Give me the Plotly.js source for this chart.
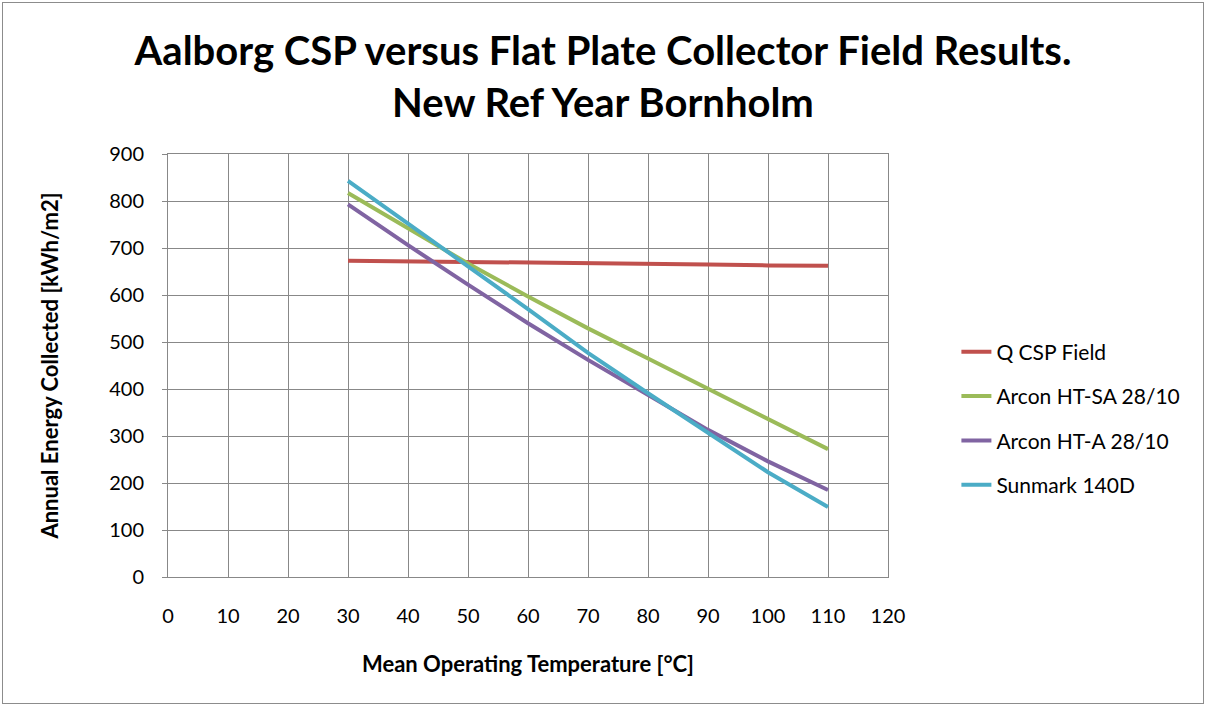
<!DOCTYPE html>
<html>
<head>
<meta charset="utf-8">
<script src="https://cdn.plot.ly/plotly-3.0.1.min.js"></script>
<style>
html,body{margin:0;padding:0;background:#fff;}
#wrap{position:absolute;left:2px;top:2px;width:1200px;height:700px;border:1px solid #8c8c8c;}
#chart{width:1200px;height:700px;}
</style>
</head>
<body>
<div id="wrap"><div id="chart"></div></div>
<script>
var temperature = [30, 40, 50, 60, 70, 80, 90, 100, 110];
var qCspField = [673, 672, 670, 669, 668, 666, 665, 663, 662];
var arconHTSA = [817, 742, 667, 597, 529, 465, 400, 336, 272];
var arconHTA = [793, 706, 622, 540, 462, 388, 313, 246, 185];
var sunmark140D = [843, 751, 661, 570, 477, 391, 307, 223, 149];
var seriesNames = ["Q CSP Field", "Arcon HT-SA 28/10", "Arcon HT-A 28/10", "Sunmark 140D"];
var seriesColors = ["#C0504D", "#9BBB59", "#8064A2", "#4BACC6"];
var xTicks = [0,10,20,30,40,50,60,70,80,90,100,110,120];
var yTicks = [0,100,200,300,400,500,600,700,800,900];

var font = "Lato, 'Open Sans', sans-serif";
var allY = [qCspField, arconHTSA, arconHTA, sunmark140D];
var traces = allY.map(function(ys, i){
  return {x: temperature, y: ys, type: 'scatter', mode: 'lines', name: seriesNames[i],
    legendgroup: 'g'+i, line: {color: seriesColors[i], width: 4}};
});

var layout = {
  width: 1200, height: 700,
  margin: {l: 165, r: 315, t: 151, b: 126},
  paper_bgcolor: '#fff', plot_bgcolor: '#fff',
  font: {family: font, color: '#000'},
  title: {text: '<b>Aalborg CSP versus Flat Plate Collector Field Results.<br>New Ref Year Bornholm</b>',
    font: {size: 40, family: font}, x: 0.5, xanchor: 'center', yref: 'container', y: 0.912, yanchor: 'middle'},
  xaxis: {range: [0, 120], tickvals: xTicks, ticktext: xTicks.map(String),
    showgrid: true, gridcolor: '#888', gridwidth: 1, zeroline: false,
    showline: true, linecolor: '#888', mirror: true, ticks: '',
    tickfont: {size: 20, family: font}, ticklabelstandoff: 21,
    title: {text: '<b>Mean Operating Temperature [°C]</b>', font: {size: 22, family: font}, standoff: 30}},
  yaxis: {range: [0, 900], tickvals: yTicks, ticktext: yTicks.map(String),
    showgrid: true, gridcolor: '#888', gridwidth: 1, zeroline: false,
    showline: true, linecolor: '#888', mirror: true, ticks: 'outside', ticklen: 5, tickcolor: '#888',
    tickfont: {size: 20, family: font}, ticklabelstandoff: 14,
    title: {text: '<b>Annual Energy Collected [kWh/m2]</b>', font: {size: 22, family: font}, standoff: 44}},
  showlegend: true,
  legend: {x: 1.095, xanchor: 'left', y: 0.58, yanchor: 'top', font: {size: 21, family: font},
    traceorder: 'grouped', tracegroupgap: 14, bgcolor: 'rgba(0,0,0,0)'}
};
Plotly.newPlot('chart', traces, layout, {displayModeBar: false});
</script>
</body>
</html>
